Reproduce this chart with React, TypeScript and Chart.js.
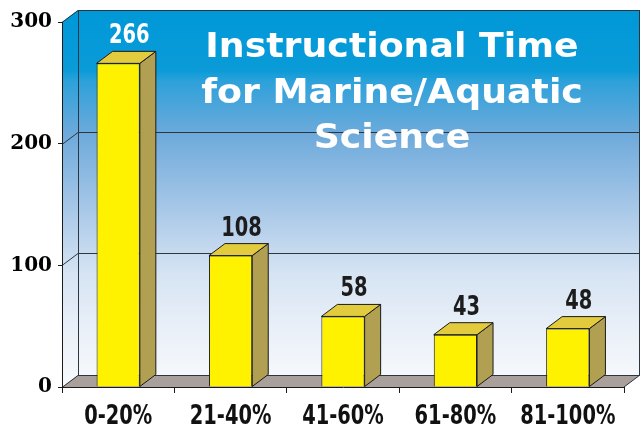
import React, { useEffect, useRef } from 'react';
import { Chart, registerables } from 'chart.js';

Chart.register(...registerables);

const categories = ['0-20%', '21-40%', '41-60%', '61-80%', '81-100%'];
const values = [266, 108, 58, 43, 48];
const yTicks = [0, 100, 200, 300];
const titleLines = ['Instructional Time', 'for Marine/Aquatic', 'Science'];

const DX = 16;
const DY = 12;
const condensed = "'DejaVu Sans Condensed', 'DejaVu Sans', sans-serif";
const SQUEEZE = 0.8;

function drawScaled(ctx: any, text: string, x: number, y: number, sx: number) {
  ctx.save();
  ctx.translate(x, y);
  ctx.scale(sx, 1);
  ctx.fillText(text, 0, 0);
  ctx.restore();
}

const threeD = {
  id: 'threeD',
  beforeDraw(chart: any) {
    const { ctx, chartArea, scales } = chart;
    const { left, right, bottom } = chartArea;
    const y = scales.y;
    const wallTop = y.getPixelForValue(yTicks[yTicks.length - 1]) - DY;
    const backL = left + DX;
    const backR = right + DX;
    const backB = bottom - DY;
    ctx.save();
    const g = ctx.createLinearGradient(0, wallTop, 0, bottom);
    g.addColorStop(0, '#0098d8');
    g.addColorStop(0.16, '#0a9bd8');
    g.addColorStop(0.19, '#2ea1da');
    g.addColorStop(0.33, '#6eaadb');
    g.addColorStop(0.55, '#aecbe9');
    g.addColorStop(0.7, '#d6e4f3');
    g.addColorStop(0.85, '#eaf0f8');
    g.addColorStop(1, '#f8fafd');
    ctx.fillStyle = g;
    ctx.fillRect(backL, wallTop, backR - backL, backB - wallTop);
    ctx.beginPath();
    ctx.moveTo(left, y.getPixelForValue(yTicks[yTicks.length - 1]));
    ctx.lineTo(backL, wallTop);
    ctx.lineTo(backL, backB);
    ctx.lineTo(left, bottom);
    ctx.closePath();
    ctx.fill();
    ctx.beginPath();
    ctx.moveTo(left, bottom);
    ctx.lineTo(right, bottom);
    ctx.lineTo(backR, backB);
    ctx.lineTo(backL, backB);
    ctx.closePath();
    ctx.fillStyle = '#a99f9b';
    ctx.fill();
    ctx.strokeStyle = '#2b3640';
    ctx.lineWidth = 1;
    yTicks.forEach((v) => {
      const py = Math.round(y.getPixelForValue(v)) + 0.5;
      ctx.beginPath();
      ctx.moveTo(left, py);
      ctx.lineTo(backL, py - DY);
      ctx.lineTo(backR, py - DY);
      ctx.stroke();
    });
    ctx.beginPath();
    ctx.moveTo(backL + 0.5, wallTop);
    ctx.lineTo(backL + 0.5, backB);
    ctx.moveTo(backR - 0.5, wallTop);
    ctx.lineTo(backR - 0.5, backB);
    ctx.moveTo(right, bottom);
    ctx.lineTo(backR, backB);
    ctx.stroke();
    ctx.restore();
  },
  afterDatasetsDraw(chart: any) {
    const { ctx, chartArea } = chart;
    const meta = chart.getDatasetMeta(0);
    ctx.save();
    ctx.lineWidth = 1;
    ctx.strokeStyle = '#1a1a1a';
    meta.data.forEach((bar: any, i: number) => {
      const x1 = bar.x - bar.width / 2;
      const x2 = bar.x + bar.width / 2;
      const top = bar.y;
      const base = bar.base;
      ctx.beginPath();
      ctx.moveTo(x2, top);
      ctx.lineTo(x2 + DX, top - DY);
      ctx.lineTo(x2 + DX, base - DY);
      ctx.lineTo(x2, base);
      ctx.closePath();
      ctx.fillStyle = '#b2a052';
      ctx.fill();
      ctx.stroke();
      ctx.beginPath();
      ctx.moveTo(x1, top);
      ctx.lineTo(x1 + DX, top - DY);
      ctx.lineTo(x2 + DX, top - DY);
      ctx.lineTo(x2, top);
      ctx.closePath();
      ctx.fillStyle = '#e2cc3e';
      ctx.fill();
      ctx.stroke();
      const ly = top - DY - 8;
      ctx.font = `bold 27px ${condensed}`;
      ctx.textAlign = 'center';
      ctx.textBaseline = 'alphabetic';
      ctx.fillStyle = ly < 100 ? '#ffffff' : '#1c1c1c';
      drawScaled(ctx, String(values[i]), bar.x + 11, ly, SQUEEZE);
      ctx.fillStyle = '#111111';
      drawScaled(ctx, categories[i], bar.x, chartArea.bottom + 37, SQUEEZE);
    });
    ctx.font = "bold 33px 'DejaVu Sans', sans-serif";
    ctx.fillStyle = '#ffffff';
    ctx.textAlign = 'center';
    ctx.textBaseline = 'alphabetic';
    const cx = (chartArea.left + chartArea.right) / 2 + 49;
    titleLines.forEach((t, i) => {
      drawScaled(ctx, t, cx, 57 + i * 45.5, 1.1);
    });
    ctx.restore();
  },
};

export default function App() {
  const ref = useRef<HTMLCanvasElement>(null);
  useEffect(() => {
    if (!ref.current) return;
    const chart = new Chart(ref.current, {
      type: 'bar',
      data: {
        labels: categories,
        datasets: [
          {
            data: values,
            backgroundColor: '#fff200',
            borderColor: '#1a1a1a',
            borderWidth: 1,
            categoryPercentage: 1,
            barPercentage: 0.385,
          },
        ],
      },
      options: {
        animation: false,
        responsive: false,
        layout: { padding: { top: 22, right: 18, left: 0, bottom: 0 } },
        plugins: { legend: { display: false }, tooltip: { enabled: false }, title: { display: false } },
        scales: {
          x: {
            grid: { drawOnChartArea: false, drawTicks: true, tickLength: 6, color: '#1a1a1a', offset: true },
            border: { display: true, color: '#1a1a1a', width: 1 },
            ticks: { display: false },
            afterFit: (s: any) => { s.height = 40; },
          },
          y: {
            min: 0,
            max: 300,
            afterBuildTicks: (s: any) => { s.ticks = yTicks.map((v) => ({ value: v })); },
            grid: { drawOnChartArea: false, drawTicks: true, tickLength: 4, color: '#1a1a1a' },
            border: { display: true, color: '#1a1a1a', width: 1 },
            ticks: {
              color: '#000',
              font: { family: "'DejaVu Serif', serif", weight: 'bold', size: 20 },
              padding: 6,
            },
            afterFit: (s: any) => { s.width = 62; },
          },
        },
      },
      plugins: [threeD],
    });
    return () => chart.destroy();
  }, []);
  return (
    <div style={{ position: 'absolute', left: 0, top: 0, width: 642, height: 427, background: '#fff' }}>
      <canvas ref={ref} width={642} height={427} />
    </div>
  );
}
